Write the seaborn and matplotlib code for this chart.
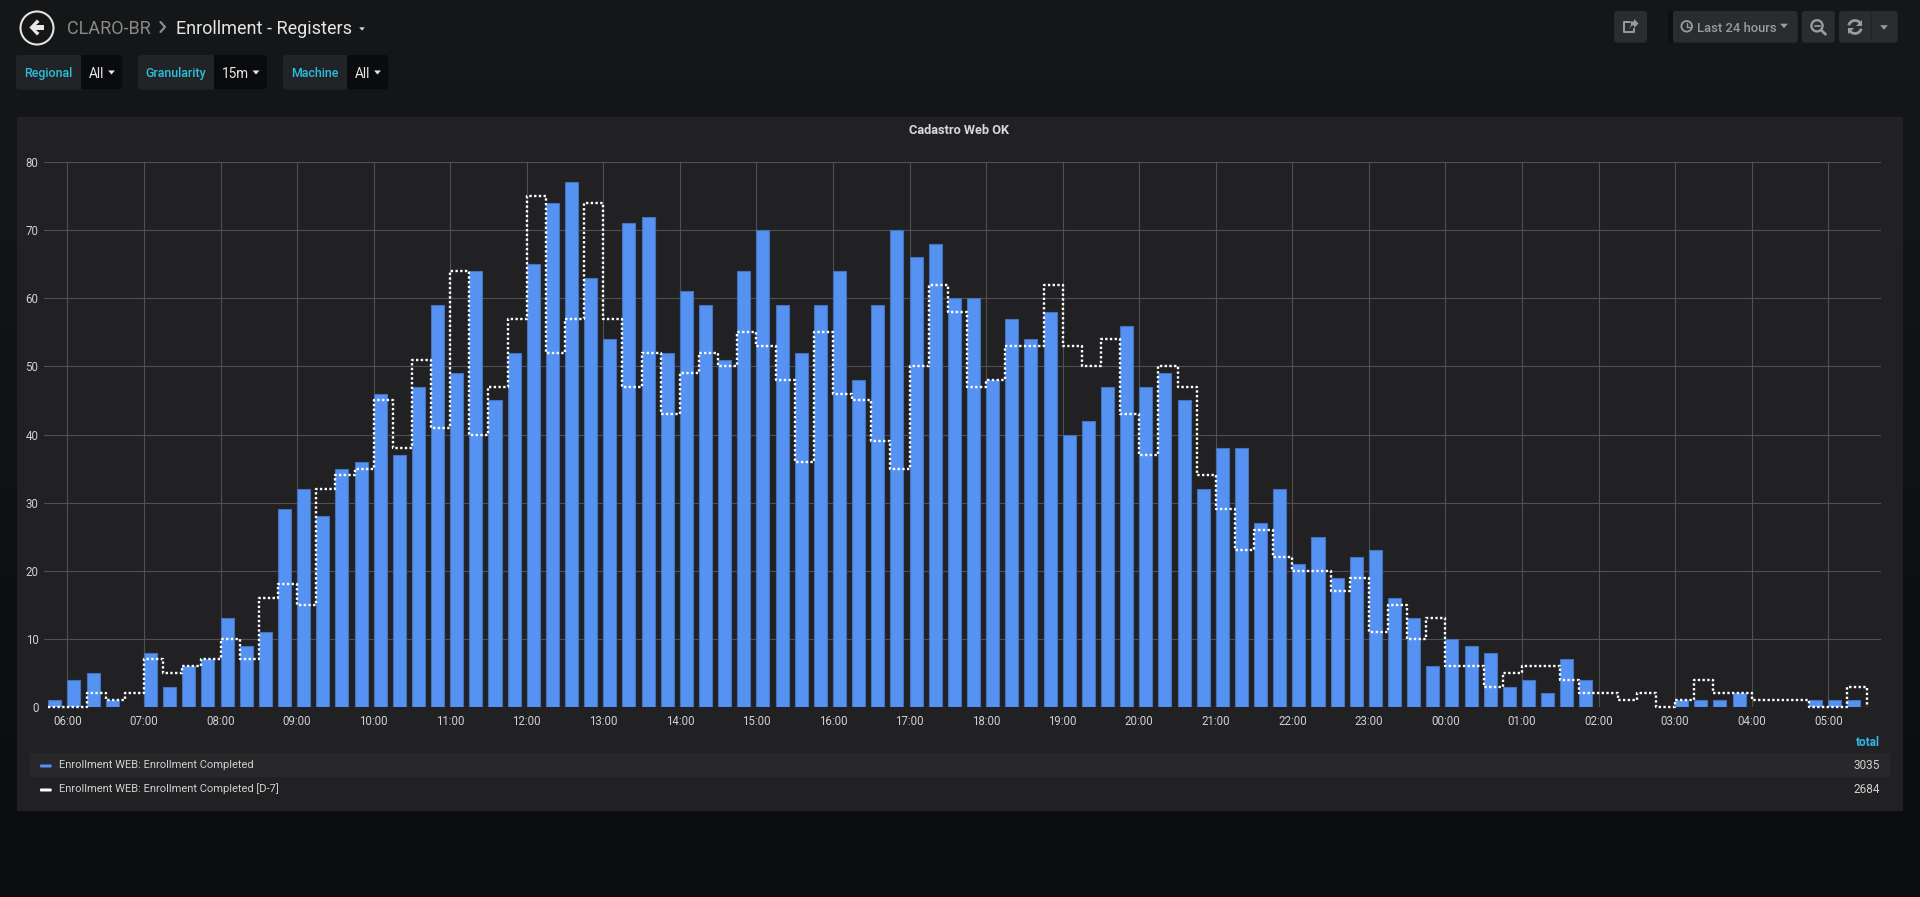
import matplotlib
matplotlib.use('Agg')
import matplotlib.pyplot as plt
from matplotlib.patches import FancyBboxPatch, Rectangle, Circle, Polygon, Arc
import numpy as np
import pandas as pd
import seaborn as sns

# 15 minute slots, 05:45 until 05:30 the next day
slots = ['%02d:%02d' % (((345 + 15 * i) // 60) % 24, (345 + 15 * i) % 60) for i in range(96)]

completed = [1, 4, 5, 1, 0, 8, 3, 6, 7, 13, 9, 11, 29, 32, 28, 35,
             36, 46, 37, 47, 59, 49, 64, 45, 52, 65, 74, 77, 63, 54, 71, 72,
             52, 61, 59, 51, 64, 70, 59, 52, 59, 64, 48, 59, 70, 66, 68, 60,
             60, 48, 57, 54, 58, 40, 42, 47, 56, 47, 49, 45, 32, 38, 38, 27,
             32, 21, 25, 19, 22, 23, 16, 13, 6, 10, 9, 8, 3, 4, 2, 7,
             4, 0, 0, 0, 0, 1, 1, 1, 2, 0, 0, 0, 1, 1, 1, 0]

completed_d7 = [0, 0, 2, 1, 2, 7, 5, 6, 7, 10, 7, 16, 18, 15, 32, 34,
                35, 45, 38, 51, 41, 64, 40, 47, 57, 75, 52, 57, 74, 57, 47, 52,
                43, 49, 52, 50, 55, 53, 48, 36, 55, 46, 45, 39, 35, 50, 62, 58,
                47, 48, 53, 53, 62, 53, 50, 54, 43, 37, 50, 47, 34, 29, 23, 26,
                22, 20, 20, 17, 19, 11, 15, 10, 13, 6, 6, 3, 5, 6, 6, 4,
                2, 2, 1, 2, 0, 1, 4, 2, 2, 1, 1, 1, 0, 0, 3, 0]

hour_labels = ['06:00', '07:00', '08:00', '09:00', '10:00', '11:00', '12:00', '13:00',
               '14:00', '15:00', '16:00', '17:00', '18:00', '19:00', '20:00', '21:00',
               '22:00', '23:00', '00:00', '01:00', '02:00', '03:00', '04:00', '05:00']
y_ticks = [0, 10, 20, 30, 40, 50, 60, 70, 80]
series_names = ['Enrollment WEB: Enrollment Completed', 'Enrollment WEB: Enrollment Completed [D-7]']
series_totals = ['3035', '2684']

W, H = 1920, 897
BLUE = '#5692f2'
GRID = '#505053'
PANEL = '#212124'
CYAN = '#33b5e5'
ICON = '#9a9b9c'

sns.set_theme(style='dark')
plt.rcParams['font.family'] = ['Roboto', 'DejaVu Sans']

fig = plt.figure(figsize=(W / 100, H / 100), dpi=100)

# page furniture lives on a full size axes in pixel coords
bg = fig.add_axes([0, 0, 1, 1], zorder=0)
bg.set_xlim(0, W)
bg.set_ylim(H, 0)
bg.axis('off')
grad = np.linspace(0, 1, 256).reshape(-1, 1)
bg.imshow(grad, extent=(0, W, H, 0), aspect='auto', zorder=0,
          cmap=matplotlib.colors.LinearSegmentedColormap.from_list('page', ['#161719', '#0b0c0e']))
bg.set_xlim(0, W)
bg.set_ylim(H, 0)


def box(x0, y0, x1, y1, color, r=3):
    bg.add_patch(FancyBboxPatch((x0, y0), x1 - x0, y1 - y0, boxstyle='round,pad=0,rounding_size=%s' % r,
                                fc=color, ec='none', zorder=1))


def caret(x, y, size, color):
    bg.add_patch(Polygon([(x - size, y - size * 0.6), (x + size, y - size * 0.6), (x, y + size * 0.6)],
                         fc=color, ec='none', zorder=3))


# header
bg.add_patch(Circle((37, 28), 16.5, fc='none', ec='#e3e3e3', lw=1.5, zorder=3))
bg.add_patch(Polygon([(29.4, 27.5), (37, 19.5), (39.5, 22), (36, 25), (44, 25), (44, 30),
                      (36, 30), (39.5, 33), (37, 35.5)], fc='#e8e8e8', ec='none', zorder=3))
bg.text(67, 27, 'CLARO-BR', color='#8a8a8a', fontsize=13, va='center_baseline', zorder=3)
bg.plot([160.5, 165, 160.5], [22, 27, 32], color='#8a8a8a', lw=1.6, zorder=3)
bg.text(176, 27, 'Enrollment - Registers', color='#e6e6e6', fontsize=13, va='center_baseline', zorder=3)
caret(362, 29, 2.8, '#d8d9da')

# template variables
for x0, x1, x2, name, val in [(16, 81, 122.5, 'Regional', 'All'),
                              (138, 214, 267, 'Granularity', '15m'),
                              (283, 347, 388.5, 'Machine', 'All')]:
    box(x0, 55, x2, 89.5, '#212327')
    box(x1, 55, x2, 89.5, '#0a0b0d')
    bg.add_patch(Rectangle((x1, 55), 4, 34.5, fc='#0a0b0d', ec='none', zorder=1))
    bg.text((x0 + x1) / 2, 72, name, color='#2bc0dc', fontsize=8.9, fontweight='medium', ha='center', va='center_baseline', zorder=3)
    bg.text(x1 + 8, 72.5, val, color='#e6e6e6', fontsize=9.8, va='center_baseline', zorder=3)
    caret(x2 - 11, 72.5, 3.4, '#e6e6e6')

# right side buttons
box(1614, 11, 1647, 42.7, '#2b2c2f')
box(1673, 11, 1797.7, 42.7, '#2b2c2f')
box(1802, 11, 1834.7, 42.7, '#2b2c2f')
box(1839, 11, 1897.7, 42.7, '#2b2c2f')
bg.plot([1870.8, 1870.8], [11, 42.7], color='#222326', lw=0.8, zorder=2)
bg.add_patch(Rectangle((1668, 11), 5, 31.7, fc='#0e0f11', ec='none', zorder=1))
# share
bg.plot([1634, 1634, 1624, 1624, 1630], [29, 32.5, 32.5, 22, 22], color=ICON, lw=1.4, zorder=3)
bg.add_patch(Polygon([(1631, 25), (1631, 21.5), (1634, 21.5), (1634, 19), (1638.5, 23.5), (1634, 28),
                      (1634, 25.5), (1632, 25.5), (1629, 29)], fc=ICON, ec='none', zorder=3))
# clock
bg.add_patch(Circle((1686.7, 26.3), 5.3, fc='none', ec=ICON, lw=1.3, zorder=3))
bg.plot([1687, 1687, 1690], [22.8, 26.8, 26.8], color=ICON, lw=1, zorder=3)
bg.text(1696.7, 27, 'Last 24 hours', color=ICON, fontsize=9.4, fontweight='medium', va='center_baseline', zorder=3)
caret(1784, 26, 3.8, ICON)
# zoom out
bg.add_patch(Circle((1817, 25.8), 5.6, fc='none', ec=ICON, lw=1.7, zorder=3))
bg.plot([1814.5, 1819.5], [25.8, 25.8], color=ICON, lw=1.3, zorder=3)
bg.plot([1821, 1825.5], [30, 34.2], color=ICON, lw=2, zorder=3)
# refresh
bg.add_patch(Arc((1855, 27), 13, 13, theta1=195, theta2=330, ec=ICON, lw=2, zorder=3))
bg.add_patch(Arc((1855, 27), 13, 13, theta1=15, theta2=150, ec=ICON, lw=2, zorder=3))
bg.add_patch(Polygon([(1862, 20), (1862, 26), (1856, 26)], fc=ICON, ec='none', zorder=3))
bg.add_patch(Polygon([(1848, 34), (1848, 28), (1854, 28)], fc=ICON, ec='none', zorder=3))
caret(1884, 27.5, 3.8, ICON)

# panel
bg.add_patch(Rectangle((17, 117), 1885.7, 693.7, fc=PANEL, ec='none', zorder=1))
bg.text(959, 129.5, 'Cadastro Web OK', color='#d8d9da', fontsize=9.2, fontweight='bold', ha='center', va='center_baseline', zorder=3)

# chart, bars and steps go through seaborn
ax = fig.add_axes([44 / W, 1 - 707 / H, (1880.7 - 44) / W, (707 - 162) / H], zorder=1)
ax.patch.set_alpha(0)
BAR_W = 0.68
df = pd.DataFrame({'slot': slots, 'completed': completed, 'd7': completed_d7})
df['drawn'] = df['completed'].where(df['completed'] > 0)
df['edge'] = np.arange(len(df)) - BAR_W / 2
sns.barplot(data=df, x='slot', y='drawn', order=slots, width=BAR_W, color=BLUE, saturation=1,
            edgecolor='#4473bd', linewidth=0.8, errorbar=None, ax=ax, zorder=2)
sns.lineplot(data=df, x='edge', y='d7', drawstyle='steps-post', color='white', lw=1.7,
             linestyle=(0, (1, 1)), ax=ax, zorder=3, clip_on=False, legend=False)

ax.set_xlim(-0.564, 95.4)
ax.set_ylim(0, 80)
ax.set_xticks([slots.index(h) - BAR_W / 2 for h in hour_labels])
ax.set_xticklabels(hour_labels)
ax.set_yticks(y_ticks)
ax.set_xlabel('')
ax.set_ylabel('')
ax.set_axisbelow(True)
ax.grid(True, color=GRID, lw=0.8)
ax.tick_params(axis='both', length=0, labelsize=8.3, labelcolor='#d0d0d0')
ax.tick_params(axis='x', pad=6)
ax.tick_params(axis='y', pad=4)
for s in ax.spines.values():
    s.set_visible(False)

# legend table
bg.text(1880, 741, 'total', color=CYAN, fontsize=8.6, fontweight='bold', ha='right', va='center_baseline', zorder=3)
bg.add_patch(Rectangle((30, 752.7), 1860, 24.3, fc='#28282b', ec='none', zorder=2))
for yc, y_sw, col, name, tot in [(764, 766, BLUE, series_names[0], series_totals[0]),
                                 (788, 790, 'white', series_names[1], series_totals[1])]:
    bg.add_patch(FancyBboxPatch((40, y_sw - 1.5), 11.7, 3, boxstyle='round,pad=0,rounding_size=1',
                                fc=col, ec='none', zorder=3))
    bg.text(59, yc, name, color='#d0d0d0', fontsize=8, va='center_baseline', zorder=3)
    bg.text(1880, yc, tot, color='#d0d0d0', fontsize=8.5, ha='right', va='center_baseline', zorder=3)

fig.savefig('out.png', dpi=100, facecolor='#161719')
